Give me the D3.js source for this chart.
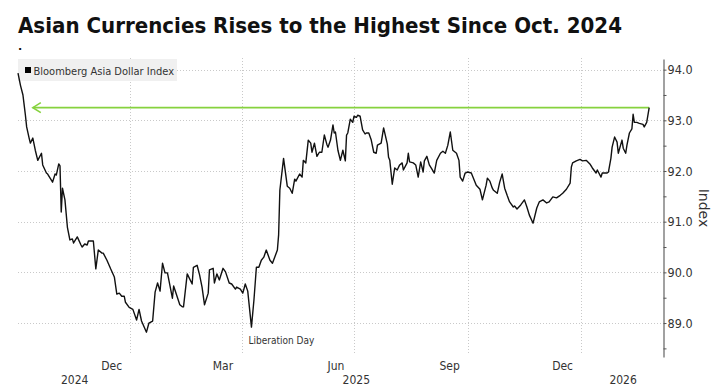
<!DOCTYPE html>
<html>
<head>
<meta charset="utf-8">
<script src="https://cdn.jsdelivr.net/npm/d3@7"></script>
<style>
  body { margin: 0; background: #fff; }
  svg { display: block; }
  .grid line { stroke: #c9c9c9; stroke-width: 1; stroke-dasharray: 1,2; }
  .axis text, .label { font-family: "DejaVu Sans Condensed", "DejaVu Sans", sans-serif; font-stretch: condensed; fill: #333; }
</style>
</head>
<body>
<svg id="chart" width="720" height="389"></svg>
<script>
const title = "Asian Currencies Rises to the Highest Since Oct. 2024";
const seriesName = "Bloomberg Asia Dollar Index";
const eventLabel = "Liberation Day";
const eventDate = "2025-04-09";
const arrowFrom = "2024-10-14";

const dates = [
  "2024-10-02","2024-10-04","2024-10-06","2024-10-07","2024-10-08","2024-10-09","2024-10-11","2024-10-12","2024-10-14","2024-10-16",
  "2024-10-18","2024-10-21","2024-10-22","2024-10-25","2024-10-26","2024-10-30","2024-11-01","2024-11-02","2024-11-04","2024-11-05",
  "2024-11-06","2024-11-07","2024-11-09","2024-11-11","2024-11-13","2024-11-15","2024-11-16","2024-11-19","2024-11-22","2024-11-23",
  "2024-11-25","2024-11-27","2024-11-28","2024-12-02","2024-12-04","2024-12-06","2024-12-09","2024-12-10","2024-12-13","2024-12-16",
  "2024-12-19","2024-12-21","2024-12-23","2024-12-25","2024-12-27","2024-12-28","2024-12-31","2025-01-03","2025-01-06","2025-01-08",
  "2025-01-10","2025-01-14","2025-01-16","2025-01-19","2025-01-21","2025-01-23","2025-01-25","2025-01-27","2025-01-29","2025-01-31",
  "2025-02-04","2025-02-05","2025-02-08","2025-02-10","2025-02-12","2025-02-13","2025-02-16","2025-02-20","2025-02-21","2025-02-24",
  "2025-02-26","2025-02-28","2025-03-02","2025-03-05","2025-03-06","2025-03-09","2025-03-10","2025-03-12","2025-03-14","2025-03-17",
  "2025-03-19","2025-03-22","2025-03-24","2025-03-27","2025-03-28","2025-03-31","2025-04-02","2025-04-04","2025-04-06","2025-04-09",
  "2025-04-11","2025-04-13","2025-04-15","2025-04-17","2025-04-19","2025-04-21","2025-04-24","2025-04-26","2025-04-30","2025-05-01",
  "2025-05-02","2025-05-05","2025-05-08","2025-05-10","2025-05-12","2025-05-14","2025-05-15","2025-05-18","2025-05-20","2025-05-21",
  "2025-05-23","2025-05-25","2025-05-27","2025-05-28","2025-05-30","2025-06-01","2025-06-03","2025-06-05","2025-06-07","2025-06-09",
  "2025-06-10","2025-06-12","2025-06-14","2025-06-15","2025-06-16","2025-06-18","2025-06-20","2025-06-22","2025-06-24","2025-06-25",
  "2025-06-26","2025-06-28","2025-06-30","2025-07-01","2025-07-03","2025-07-04","2025-07-06","2025-07-08","2025-07-10","2025-07-11",
  "2025-07-13","2025-07-15","2025-07-17","2025-07-19","2025-07-20","2025-07-23","2025-07-25","2025-07-28","2025-07-29","2025-07-30",
  "2025-08-01","2025-08-03","2025-08-05","2025-08-07","2025-08-09","2025-08-10","2025-08-13","2025-08-14","2025-08-15","2025-08-18",
  "2025-08-20","2025-08-22","2025-08-24","2025-08-26","2025-08-27","2025-08-29","2025-08-31","2025-09-02","2025-09-04","2025-09-06",
  "2025-09-09","2025-09-11","2025-09-13","2025-09-15","2025-09-17","2025-09-19","2025-09-22","2025-09-24","2025-09-25","2025-09-27",
  "2025-09-29","2025-10-01","2025-10-04","2025-10-08","2025-10-11","2025-10-13","2025-10-16","2025-10-17","2025-10-19","2025-10-21",
  "2025-10-22","2025-10-25","2025-10-27","2025-10-29","2025-10-31","2025-11-02","2025-11-04","2025-11-07","2025-11-08","2025-11-10",
  "2025-11-13","2025-11-16","2025-11-18","2025-11-20","2025-11-23","2025-11-26","2025-11-28","2025-12-01","2025-12-04","2025-12-06",
  "2025-12-09","2025-12-12","2025-12-15","2025-12-17","2025-12-20","2025-12-23","2025-12-24","2025-12-25","2025-12-28","2025-12-31",
  "2026-01-02","2026-01-05","2026-01-08","2026-01-10","2026-01-13","2026-01-14","2026-01-17","2026-01-18","2026-01-22","2026-01-23",
  "2026-01-25","2026-01-26","2026-01-28","2026-01-30","2026-01-31","2026-02-03","2026-02-04","2026-02-06","2026-02-07","2026-02-09",
  "2026-02-11","2026-02-12","2026-02-13","2026-02-15","2026-02-17","2026-02-20","2026-02-21","2026-02-23","2026-02-25"
];

const values = [
  93.93,93.69,93.50,93.30,93.10,92.87,92.65,92.55,92.65,92.41,
  92.21,92.35,92.12,91.96,91.94,91.78,91.94,91.92,92.14,92.10,
  91.19,91.66,91.43,90.89,90.64,90.66,90.58,90.70,90.54,90.50,
  90.56,90.54,90.62,90.62,90.07,90.44,90.38,90.38,90.24,90.07,
  89.91,89.57,89.59,89.53,89.53,89.41,89.31,89.27,89.06,89.27,
  89.04,88.82,89.00,89.04,89.61,89.79,89.63,90.18,89.99,89.99,
  89.49,89.73,89.51,89.36,89.32,89.32,89.97,89.77,90.10,90.14,
  89.95,89.71,89.36,89.59,90.05,90.08,89.79,89.97,89.85,90.08,
  90.01,89.79,89.77,89.67,89.71,89.67,89.59,89.77,89.63,88.92,
  89.45,90.10,90.10,90.24,90.30,90.44,90.24,90.18,90.44,90.74,
  91.62,92.25,91.70,91.66,91.56,91.84,91.80,91.94,91.88,92.21,
  92.16,92.61,92.55,92.37,92.55,92.29,92.37,92.37,92.71,92.53,
  92.47,92.61,92.91,92.75,92.77,92.41,92.21,92.41,92.20,92.71,
  92.75,93.02,92.96,93.08,93.06,93.10,93.08,92.81,92.73,92.75,
  92.75,92.61,92.37,92.35,92.51,92.55,92.85,92.53,92.27,92.21,
  91.74,92.06,92.02,92.12,92.16,92.02,92.16,92.35,92.18,92.16,
  92.12,91.88,92.18,91.98,92.20,92.29,92.12,92.04,91.96,92.21,
  92.35,92.39,92.35,92.51,92.77,92.41,92.35,92.21,91.88,91.80,
  91.96,91.98,91.96,91.72,91.64,91.43,91.72,91.86,91.80,91.66,
  91.62,91.56,91.78,91.94,91.66,91.52,91.39,91.29,91.31,91.25,
  91.33,91.43,91.29,91.13,90.97,91.27,91.39,91.43,91.37,91.39,
  91.49,91.47,91.52,91.56,91.64,91.76,92.08,92.16,92.20,92.23,
  92.20,92.21,92.14,92.06,91.96,92.02,91.88,91.96,91.96,91.98,
  92.25,92.47,92.67,92.57,92.35,92.61,92.45,92.35,92.51,92.75,
  92.83,93.12,92.96,92.96,92.94,92.92,92.87,92.96,93.25
];

const yTicks = [89, 90, 91, 92, 93, 94];
const yMinorTicks = [88.5, 89.5, 90.5, 91.5, 92.5, 93.5];
const monthLabels = ["2024-12", "2025-03", "2025-06", "2025-09", "2025-12"];
const quarterLines = ["2025-01-01", "2025-04-01", "2025-07-01", "2025-10-01", "2026-01-01"];
const yearLabels = [2024, 2025, 2026];

const parse = d3.timeParse("%Y-%m-%d");
const parseMonth = d3.timeParse("%Y-%m");
const data = dates.map((d, i) => ({date: parse(d), value: values[i]}));

const svg = d3.select("#chart");
const plotLeft = 18, plotRight = 664, plotTop = 59, plotBottom = 357;

const x = d3.scaleTime()
    .domain([parse("2024-10-02"), parse("2026-03-09")])
    .range([plotLeft, plotRight]);
const y = d3.scaleLinear()
    .domain([88.33, 94.21])
    .range([plotBottom, plotTop]);

// grid
svg.append("g")
    .attr("class", "grid")
    .selectAll("line")
    .data(yTicks)
    .join("line")
    .attr("x1", plotLeft)
    .attr("x2", plotRight - 1)
    .attr("y1", d => Math.round(y(d)) + 0.5)
    .attr("y2", d => Math.round(y(d)) + 0.5);

svg.append("g")
    .attr("class", "grid")
    .selectAll("line")
    .data(quarterLines.map(parse))
    .join("line")
    .attr("x1", d => Math.round(x(d)) + 0.5)
    .attr("x2", d => Math.round(x(d)) + 0.5)
    .attr("y1", plotTop - 1)
    .attr("y2", plotBottom - 2);

// legend
const legend = svg.append("g");
legend.append("rect")
    .attr("x", plotLeft).attr("y", 59)
    .attr("width", 159).attr("height", 22)
    .attr("fill", "#f0f0f0");
legend.append("rect")
    .attr("x", 25).attr("y", 67)
    .attr("width", 6).attr("height", 6)
    .attr("fill", "#000");
legend.append("text")
    .attr("class", "label")
    .attr("x", 33.5).attr("y", 74.5)
    .attr("font-size", 11)
    .attr("fill", "#222")
    .text(seriesName);

// y axis
const yAxis = svg.append("g")
    .attr("class", "axis")
    .attr("transform", "translate(" + (plotRight - 0.5) + ",0)")
    .call(d3.axisRight(y).tickValues(yTicks).tickSize(3).tickSizeOuter(0).tickPadding(1)
        .tickFormat(d3.format(".1f")));
yAxis.select(".domain").attr("stroke", "#8a8a8a").attr("stroke-width", 1.6);
yAxis.selectAll(".tick line").attr("stroke", "#555");
yAxis.selectAll("text").attr("font-size", 12.5);

const yMinor = svg.append("g")
    .attr("class", "axis")
    .attr("transform", "translate(" + (plotRight - 0.5) + ",0)")
    .call(d3.axisRight(y).tickValues(yMinorTicks).tickSize(3).tickFormat(""));
yMinor.select(".domain").remove();
yMinor.selectAll(".tick line").attr("stroke", "#555");

svg.append("text")
    .attr("transform", "translate(704,208) rotate(90)")
    .attr("text-anchor", "middle")
    .attr("dy", "0.35em")
    .attr("font-family", "DejaVu Sans, sans-serif")
    .attr("font-size", 14)
    .attr("fill", "#333")
    .text("Index");

// x axis: months centred in their month, years centred on their visible span
const midMonth = m => {
    const s = parseMonth(m);
    const e = d3.timeMonth.offset(s, 1);
    return new Date((+s + +e) / 2);
};
const xMonths = svg.append("g")
    .attr("class", "axis")
    .attr("transform", "translate(0,358.5)")
    .call(d3.axisBottom(x).tickValues(monthLabels.map(midMonth)).tickSize(0).tickPadding(3)
        .tickFormat(d3.timeFormat("%b")));
xMonths.select(".domain").remove();
xMonths.selectAll("text").attr("font-size", 12);

const [d0, d1] = x.domain();
const midYear = yr => {
    const s = d3.max([new Date(yr, 0, 1), d0]);
    const e = d3.min([new Date(yr + 1, 0, 1), d1]);
    return new Date((+s + +e) / 2);
};
const xYears = svg.append("g")
    .attr("class", "axis")
    .attr("transform", "translate(0,372.5)")
    .call(d3.axisBottom(x).tickValues(yearLabels.map(midYear)).tickSize(0).tickPadding(3)
        .tickFormat(d3.timeFormat("%Y")));
xYears.select(".domain").remove();
xYears.selectAll("text").attr("font-size", 12);

// arrow to the latest level
const last = data[data.length - 1];
const ay = y(last.value);
const ax = x(parse(arrowFrom));
svg.append("line")
    .attr("x1", ax).attr("x2", x(last.date))
    .attr("y1", ay).attr("y2", ay)
    .attr("stroke", "#86d23e")
    .attr("stroke-width", 1.6);
svg.append("path")
    .attr("d", "M" + (ax + 8) + "," + (ay - 5) + "L" + ax + "," + ay + "L" + (ax + 8) + "," + (ay + 5))
    .attr("fill", "none")
    .attr("stroke", "#86d23e")
    .attr("stroke-width", 1.6);

// series
svg.append("path")
    .datum(data)
    .attr("fill", "none")
    .attr("stroke", "#111")
    .attr("stroke-width", 1.4)
    .attr("stroke-linejoin", "round")
    .attr("d", d3.line().x(d => x(d.date)).y(d => y(d.value)));

// event label
const ev = data.find(d => +d.date === +parse(eventDate));
svg.append("text")
    .attr("class", "label")
    .attr("x", x(ev.date) - 3)
    .attr("y", y(ev.value) + 17)
    .attr("font-size", 10)
    .text(eventLabel);

// title
svg.append("text")
    .attr("x", 18).attr("y", 33)
    .attr("font-family", "DejaVu Sans Condensed, DejaVu Sans, sans-serif")
    .attr("font-stretch", "condensed")
    .attr("font-weight", "bold")
    .attr("font-size", 22)
    .attr("fill", "#111")
    .attr("textLength", 604)
    .attr("lengthAdjust", "spacingAndGlyphs")
    .text(title);
svg.append("text")
    .attr("x", 18).attr("y", 50)
    .attr("font-family", "DejaVu Sans, sans-serif")
    .attr("font-weight", "bold")
    .attr("font-size", 11)
    .attr("fill", "#111")
    .text(".");
</script>
</body>
</html>
